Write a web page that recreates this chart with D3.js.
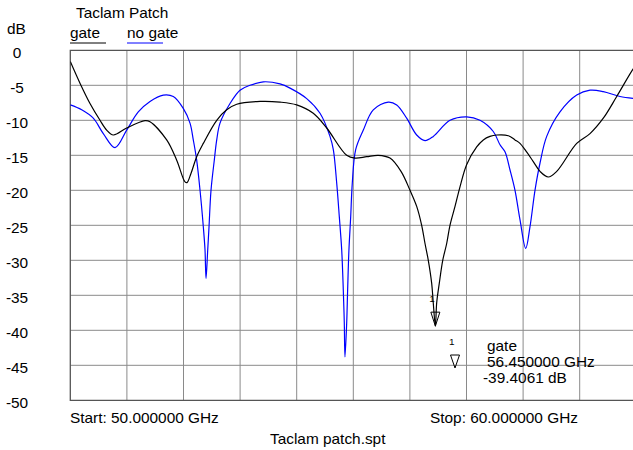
<!DOCTYPE html>
<html>
<head>
<meta charset="utf-8">
<script src="https://cdn.jsdelivr.net/npm/d3@7"></script>
<style>
  body { margin: 0; background: #fff; }
  svg { display: block; }
  text { font-family: Arial, "Liberation Sans", sans-serif; fill: #000; }
</style>
</head>
<body>
<script>
// S11 trace, 50 - 60 GHz
const gateFreq = [50.000, 50.171, 50.348, 50.525, 50.643, 50.760, 50.996, 51.320, 51.408, 51.703,
  51.880, 52.027, 52.062, 52.132, 52.233, 52.350, 52.587, 52.763, 52.940, 53.352,
  53.705, 54.000, 54.293, 54.530, 54.883, 55.030, 55.237, 55.442, 55.648, 55.843,
  56.002, 56.120, 56.208, 56.267, 56.325, 56.385, 56.413, 56.450, 56.473, 56.519,
  56.580, 56.650, 56.708, 56.797, 56.885, 57.004, 57.180, 57.297, 57.415, 57.534,
  57.739, 57.857, 57.945, 58.034, 58.180, 58.299, 58.445, 58.594, 58.947, 59.182,
  59.417, 59.654, 59.942, 60.000];
const gateDb = [-1.6, -4.7, -7.6, -10.0, -11.4, -12.1, -11.1, -10.05, -10.2, -12.8,
  -15.7, -18.8, -18.9, -17.6, -15.2, -13.3, -10.0, -8.5, -7.7, -7.3,
  -7.4, -7.8, -9.0, -11.1, -15.0, -15.4, -15.2, -15.0, -15.4, -17.3,
  -20.0, -22.3, -25.0, -27.6, -30.0, -33.3, -36.1, -39.4, -36.1, -33.3,
  -30.0, -27.6, -25.0, -22.3, -19.5, -16.3, -13.8, -12.8, -12.3, -12.1,
  -12.2, -12.8, -13.3, -14.2, -15.9, -17.3, -18.1, -17.3, -13.3, -11.9,
  -9.7, -6.6, -2.7, -2.1];

const noGateFreq = [50.000, 50.201, 50.406, 50.583, 50.790, 50.996, 51.201, 51.408, 51.643, 51.820,
  51.996, 52.115, 52.173, 52.233, 52.292, 52.350, 52.380, 52.398, 52.428, 52.451,
  52.486, 52.544, 52.587, 52.645, 52.822, 52.998, 53.175, 53.410, 53.705, 53.882,
  54.177, 54.412, 54.588, 54.647, 54.707, 54.753, 54.795, 54.823, 54.841, 54.853,
  54.883, 54.900, 54.923, 54.954, 54.982, 55.042, 55.177, 55.353, 55.618, 55.767,
  55.943, 56.120, 56.267, 56.413, 56.708, 57.004, 57.239, 57.473, 57.592, 57.680,
  57.769, 57.857, 57.945, 58.046, 58.122, 58.210, 58.299, 58.417, 58.652, 58.947,
  59.182, 59.417, 59.712, 60.000];
const noGateDb = [-7.8, -8.5, -9.7, -11.9, -13.9, -11.4, -8.8, -7.3, -6.4, -6.6,
  -8.3, -10.4, -12.8, -15.7, -20.0, -25.2, -28.5, -32.6, -28.5, -25.2,
  -20.0, -15.7, -12.8, -10.4, -7.6, -5.7, -5.0, -4.5, -4.8, -5.4,
  -6.9, -9.0, -12.3, -14.2, -19.0, -23.8, -28.5, -34.2, -39.0, -43.8,
  -39.0, -34.2, -28.5, -23.8, -19.0, -14.2, -11.4, -8.5, -7.4, -7.8,
  -9.7, -12.1, -12.9, -12.3, -10.0, -9.5, -10.0, -11.6, -13.5, -14.5,
  -17.1, -20.0, -24.2, -28.3, -25.2, -20.0, -16.1, -12.3, -8.8, -6.4,
  -5.7, -5.9, -6.6, -6.9];

const yTicks = [0, -5, -10, -15, -20, -25, -30, -35, -40, -45, -50];
const xGrid = [50, 51, 52, 53, 54, 55, 56, 57, 58, 59, 60];
const markerFreq = 56.45;
const markerDb = -39.4061;

const width = 633, height = 450;
const plot = { left: 70.3, right: 636.3, top: 50.3, bottom: 400.3 };
const sx = 1.1; // the text looks a bit wide
const fontSize = 14;

const svg = d3.select('body').append('svg')
  .attr('width', width)
  .attr('height', height);

const x = d3.scaleLinear().domain([50, 60]).range([plot.left, plot.right]);
const y = d3.scaleLinear().domain([0, -50]).range([plot.top, plot.bottom]);

function label(px, py, str, opts = {}) {
  const t = svg.append('text')
    .attr('transform', 'translate(' + px + ',' + py + ') scale(' + sx + ',1)')
    .attr('font-size', opts.size || fontSize)
    .attr('text-anchor', opts.anchor || 'start')
    .text(str);
  return t;
}

// grid
const grid = svg.append('g');
grid.selectAll('line.v')
  .data(xGrid.slice(1))
  .enter().append('line')
  .attr('x1', d => x(d)).attr('x2', d => x(d))
  .attr('y1', plot.top).attr('y2', plot.bottom)
  .attr('stroke', '#8a8a8a').attr('stroke-width', 1);
grid.selectAll('line.h')
  .data(yTicks.slice(1, -1))
  .enter().append('line')
  .attr('x1', plot.left).attr('x2', plot.right)
  .attr('y1', d => y(d)).attr('y2', d => y(d))
  .attr('stroke', '#8a8a8a').attr('stroke-width', 1);

// frame
svg.append('path')
  .attr('d', 'M' + plot.right + ',' + plot.top + 'H' + plot.left + 'V' + plot.bottom + 'H' + plot.right)
  .attr('fill', 'none')
  .attr('stroke', '#555')
  .attr('stroke-width', 1.3);

// y labels
yTicks.forEach(v => {
  label(17, y(v) + 7.5, v, { anchor: 'middle' });
});

// traces
svg.append('clipPath').attr('id', 'clip')
  .append('rect')
  .attr('x', plot.left).attr('y', plot.top)
  .attr('width', plot.right - plot.left).attr('height', plot.bottom - plot.top);

const line = d3.line()
  .x(d => x(d[0]))
  .y(d => y(d[1]))
  .curve(d3.curveCatmullRom.alpha(0.5));

svg.append('path')
  .datum(d3.zip(noGateFreq, noGateDb))
  .attr('clip-path', 'url(#clip)')
  .attr('fill', 'none')
  .attr('stroke', '#0000ff')
  .attr('stroke-width', 1.2)
  .attr('d', line);

svg.append('path')
  .datum(d3.zip(gateFreq, gateDb))
  .attr('clip-path', 'url(#clip)')
  .attr('fill', 'none')
  .attr('stroke', '#000')
  .attr('stroke-width', 1.2)
  .attr('d', line);

// marker on the gate trace
const mx = x(markerFreq), my = y(markerDb);
svg.append('path')
  .attr('d', 'M' + mx + ',' + my + 'L' + (mx - 4.5) + ',' + (my - 14) + 'H' + (mx + 4.5) + 'Z')
  .attr('fill', 'none').attr('stroke', '#000').attr('stroke-width', 1);
label(mx - 6, my - 24, '1', { size: 9 });

// marker readout
const rx = 455, ry = 355;
svg.append('path')
  .attr('d', 'M' + rx + ',' + (ry + 13) + 'L' + (rx - 4.5) + ',' + ry + 'H' + (rx + 4.5) + 'Z')
  .attr('fill', 'none').attr('stroke', '#000').attr('stroke-width', 1);
label(449, 345, '1', { size: 9 });
label(487, 351, 'gate');
label(487, 367, markerFreq.toFixed(6) + ' GHz');
label(483, 383, markerDb.toFixed(4) + ' dB');

// titles and legend
label(76, 18, 'Taclam Patch');
label(7, 34, 'dB');
label(70, 38, 'gate');
label(127, 38, 'no gate');
svg.append('line')
  .attr('x1', 70).attr('x2', 106).attr('y1', 43).attr('y2', 43)
  .attr('stroke', '#000').attr('stroke-width', 1);
svg.append('line')
  .attr('x1', 127).attr('x2', 163).attr('y1', 43).attr('y2', 43)
  .attr('stroke', '#0000ff').attr('stroke-width', 1);

// footer
label(70, 423, 'Start: ' + xGrid[0].toFixed(6) + ' GHz');
label(430, 423, 'Stop: ' + xGrid[xGrid.length - 1].toFixed(6) + ' GHz');
label(270, 444, 'Taclam patch.spt');
</script>
</body>
</html>
